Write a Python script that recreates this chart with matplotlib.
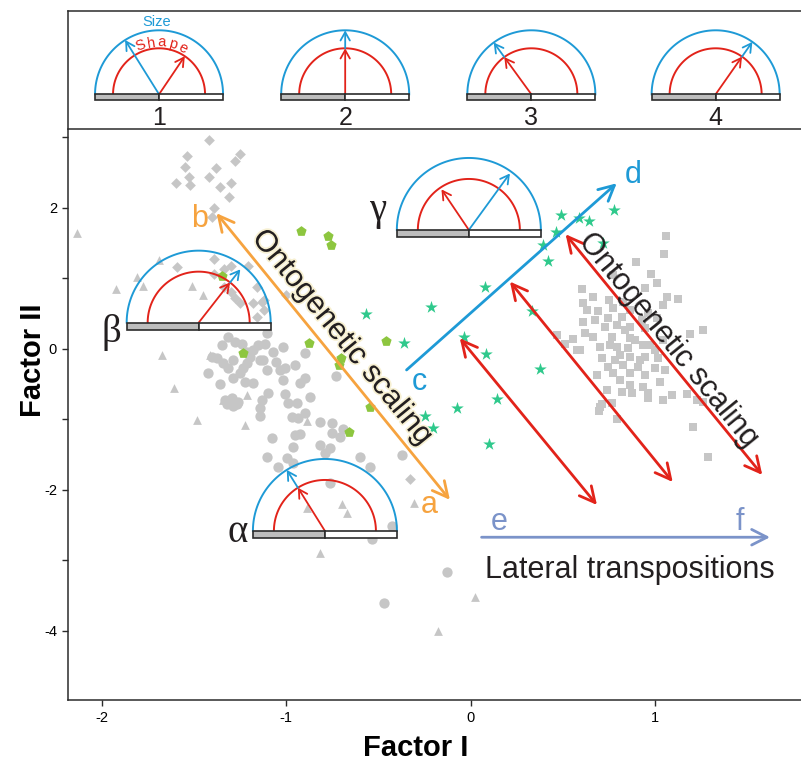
import numpy as np
import matplotlib
matplotlib.use("Agg")
import matplotlib.pyplot as plt
import matplotlib.transforms as mtransforms
import matplotlib.patheffects as pe
from matplotlib.patches import Rectangle, FancyArrowPatch

# ---- point data (Factor I, Factor II) ----
circles = [(-1.103, 0.223), (-1.315, 0.166), (-1.278, 0.104), (-1.242, 0.067), (-1.351, 0.057),
           (-1.152, 0.057), (-1.116, 0.067), (-1.020, 0.024), (-1.179, -0.014), (-1.071, -0.038),
           (-0.899, -0.061), (-1.197, -0.109), (-1.378, -0.132), (-1.125, -0.156), (-1.056, -0.180),
           (-1.342, -0.203), (-1.215, -0.203), (-1.233, -0.274), (-0.953, -0.227), (-1.007, -0.274),
           (-1.315, -0.274), (-1.106, -0.298), (-1.034, -0.298), (-1.423, -0.345), (-1.251, -0.336),
           (-1.288, -0.416), (-1.016, -0.440), (-0.899, -0.416), (-1.224, -0.464), (-1.179, -0.487),
           (-0.926, -0.487), (-1.360, -0.501), (-0.730, -0.383), (-1.098, -0.628), (-1.007, -0.643),
           (-0.871, -0.685), (-1.296, -0.699), (-1.134, -0.723), (-1.323, -0.780), (-1.269, -0.784),
           (-0.989, -0.770), (-0.944, -0.770), (-1.143, -0.841), (-1.143, -0.950), (-0.899, -0.912),
           (-0.971, -0.969), (-0.935, -0.983), (-0.817, -1.040), (-0.754, -1.054), (-0.691, -1.139),
           (-0.754, -1.187), (-0.953, -1.220), (-0.926, -1.206), (-1.079, -1.267), (-0.709, -1.244),
           (-0.817, -1.362), (-0.763, -1.408), (-0.965, -1.386), (-0.790, -1.479), (-0.600, -1.528),
           (-0.374, -1.503), (-1.106, -1.528), (-0.998, -1.550), (-1.044, -1.669), (-0.962, -1.613),
           (-0.546, -1.669), (-0.763, -1.896), (-0.425, -2.511), (-0.537, -2.699), (-0.126, -3.159),
           (-0.470, -3.599), (-1.306, -0.723), (-1.262, -0.752), (-1.288, -0.808), (-1.331, -0.723),
           (-1.405, -0.109), (-1.288, -0.156), (-1.215, -0.038), (-1.143, -0.156)]

diamonds = [(-1.42, 2.96), (-1.54, 2.74), (-1.25, 2.76), (-1.28, 2.66), (-1.55, 2.58), (-1.38, 2.56),
            (-1.53, 2.44), (-1.42, 2.44), (-1.60, 2.36), (-1.52, 2.33), (-1.30, 2.36), (-1.36, 2.30),
            (-1.31, 2.15), (-1.39, 2.00), (-1.40, 1.87), (-1.39, 1.27), (-1.59, 1.16), (-1.34, 1.14),
            (-1.30, 1.18), (-1.21, 1.17), (-1.39, 1.06), (-1.34, 0.88), (-1.30, 0.81), (-1.25, 0.65),
            (-1.28, 0.72), (-1.18, 0.65), (-1.12, 0.55), (-1.16, 0.46), (-1.13, 0.67), (-1.16, 0.88),
            (-1.12, 0.70), (-1.00, 0.77), (-0.33, -1.85)]

triangles = [(-2.134, 1.641), (-1.924, 0.847), (-1.809, 1.025), (-1.691, 1.262), (-1.776, 0.894),
             (-1.510, 0.894), (-1.454, 0.766), (-1.673, -0.085), (-1.609, -0.557), (-1.486, -1.007),
             (-1.414, -0.085), (-1.342, -0.723), (-1.215, -0.652), (-1.224, -1.078), (-0.886, -1.017),
             (-0.699, -2.199), (-0.672, -2.322), (-0.889, -2.260), (-0.817, -2.889), (-0.307, -2.180),
             (-0.175, -3.996), (0.024, -3.522)]

squares = [(1.060, 1.603), (1.051, 1.347), (0.897, 1.238), (0.977, 1.060), (0.774, 1.050),
           (1.010, 0.932), (0.603, 0.851), (0.946, 0.861), (1.064, 0.742), (1.127, 0.705),
           (0.663, 0.733), (0.751, 0.695), (0.612, 0.657), (0.829, 0.671), (1.046, 0.624),
           (0.630, 0.553), (0.693, 0.539), (0.774, 0.577), (0.865, 0.553), (0.964, 0.515),
           (0.747, 0.435), (0.820, 0.458), (0.612, 0.387), (0.675, 0.411), (0.928, 0.411),
           (1.010, 0.435), (0.729, 0.316), (0.793, 0.340), (0.865, 0.308), (0.946, 0.294),
           (1.263, 0.269), (1.190, 0.213), (0.621, 0.223), (0.467, 0.199), (0.554, 0.142),
           (0.666, 0.174), (0.766, 0.174), (0.865, 0.152), (1.046, 0.128), (0.512, 0.071),
           (0.594, -0.014), (0.702, 0.033), (0.793, 0.024), (0.856, 0.010), (0.937, 0.057),
           (0.711, -0.132), (0.811, -0.085), (0.865, -0.109), (0.946, -0.109), (1.018, -0.132),
           (0.747, -0.251), (0.829, -0.227), (0.910, -0.251), (1.001, -0.274), (1.055, -0.298),
           (0.684, -0.369), (0.774, -0.345), (0.865, -0.345), (0.946, -0.369), (0.811, -0.440),
           (1.028, -0.464), (0.738, -0.582), (0.865, -0.511), (0.937, -0.535), (0.820, -0.606),
           (0.874, -0.628), (0.964, -0.620), (1.091, -0.652), (1.173, -0.643), (1.046, -0.723),
           (1.227, -0.723), (1.263, -0.748), (0.964, -0.699), (0.766, -0.762), (0.711, -0.780),
           (0.698, -0.875), (0.796, -0.997), (1.205, -1.102), (1.287, -1.536), (0.576, -0.014),
           (0.702, -0.818), (0.838, 0.270), (0.892, 0.128), (0.975, 0.057), (0.919, -0.156),
           (0.784, -0.156), (1.001, -0.014), (0.756, 0.057)]

pentagons = [(-0.922, 1.678), (-0.772, 1.603), (-0.759, 1.475), (-1.347, 1.040), (-0.877, 0.081),
             (-1.237, -0.061), (-0.703, -0.123), (-0.712, -0.227), (-0.459, 0.113), (-0.546, -0.827),
             (-0.658, -1.181)]

stars = [(0.489, 1.901), (0.587, 1.854), (0.644, 1.815), (0.780, 1.972), (0.463, 1.655),
         (0.395, 1.475), (0.418, 1.248), (0.720, 1.499), (0.078, 0.884), (-0.217, 0.591),
         (0.331, 0.543), (-0.034, 0.174), (-0.360, 0.081), (0.084, -0.071), (0.377, -0.288),
         (0.141, -0.713), (-0.075, -0.833), (-0.247, -0.950), (-0.206, -1.125), (0.101, -1.347),
         (-0.568, 0.492)]

# ---- trajectory arrows: (start, end) ----
arrow_orange = ((-1.378, 1.925), (-0.112, -2.140))
arrow_blue = ((-0.347, -0.298), (0.793, 2.350))
arrows_red = [((-0.058, 0.152), (0.686, -2.213)),
              ((0.214, 0.955), (1.097, -1.887)),
              ((0.516, 1.627), (1.583, -1.787))]
arrow_lateral = ((0.060, -2.671), (1.625, -2.671))

# ---- size/shape glyphs: anchor, red angle, blue angle, blue starts at red radius ----
top_glyph_x = [-1.69, -0.68, 0.33, 1.33]
top_glyph_labels = ["1", "2", "3", "4"]
top_red_ang = [56, 90, 126, 55]
top_blue_ang = [122, 90, 126, 55]
top_blue_from_red = [False, True, True, True]

main_glyph_names = ["\u03b2", "\u03b1", "\u03b3"]
main_glyph_xy = [(-1.475, 0.373), (-0.790, -2.582), (-0.009, 1.688)]
main_name_xy = [(-1.946, 0.227), (-1.262, -2.610), (-0.502, 1.970)]
main_red_ang = [52, 122, 124]
main_red_len = [1.0, 1.0, 0.96]
main_blue_ang = [52, 122, 54]
main_blue_len = [0.94, 1.0, 0.97]
main_blue_from_red = [True, True, False]

GRAY = "#c6c6c6"
BLUE = "#1e9ad6"
RED = "#e2231a"
ORANGE = "#f6a33f"
PERI = "#7b93c9"
GREEN_P = "#8dc63f"
GREEN_S = "#2fc98c"
DARK = "#2b2b2b"

NARROW = ["Liberation Sans Narrow", "Liberation Sans", "DejaVu Sans"]
SANS = ["Liberation Sans", "DejaVu Sans"]
SERIF = ["Liberation Serif", "DejaVu Serif"]

W, H = 801, 763
fig = plt.figure(figsize=(W / 100, H / 100), dpi=100)
XLIM = (-2.184, 1.842)

ax = fig.add_axes([68 / W, (H - 700) / H, 742 / W, 570 / H])
top = fig.add_axes([68 / W, (H - 129) / H, 742 / W, 118 / H])

ax.set_xlim(*XLIM)
ax.set_ylim(-4.98, 3.106)
top.set_xlim(*XLIM)
top.set_ylim(0, 1)
top.set_xticks([])
top.set_yticks([])
for s in top.spines.values():
    s.set_color(DARK)
    s.set_linewidth(1.1)

for s in ["top", "right"]:
    ax.spines[s].set_visible(False)
for s in ["left", "bottom"]:
    ax.spines[s].set_color(DARK)
    ax.spines[s].set_linewidth(1.1)
ax.set_xticks([-2, -1, 0, 1])
ax.set_xticklabels(["-2", "-1", "0", "1"])
ax.set_yticks(np.arange(-4, 4))
ax.set_yticklabels(["-4", "", "-2", "", "0", "", "2", ""])
ax.tick_params(direction="out", length=4, width=1, color=DARK, labelsize=10.5, pad=4)
for lab in ax.get_xticklabels() + ax.get_yticklabels():
    lab.set_family(NARROW)

# ---- scatter groups ----
def pts(lst):
    a = np.array(lst)
    return a[:, 0], a[:, 1]

x, y = pts(triangles)
ax.scatter(x, y, marker="^", s=40, color=GRAY, lw=0, zorder=2)
x, y = pts(diamonds)
ax.scatter(x, y, marker="D", s=30, color=GRAY, lw=0, zorder=2)
x, y = pts(circles)
ax.scatter(x, y, marker="o", s=55, color=GRAY, lw=0, zorder=2)
x, y = pts(squares)
ax.scatter(x, y, marker="s", s=38, color=GRAY, lw=0, zorder=2)
x, y = pts(pentagons)
ax.scatter(x, y, marker="p", s=60, color=GREEN_P, lw=0, zorder=3)
x, y = pts(stars)
ax.scatter(x, y, marker="*", s=90, color=GREEN_S, lw=0, zorder=3)

# ---- big arrows ----
def big_arrow(p0, p1, color, style):
    a = FancyArrowPatch(p0, p1, arrowstyle=style + ",head_length=0.55,head_width=0.28",
                        mutation_scale=20, color=color, lw=2.0, shrinkA=0, shrinkB=0, zorder=4)
    ax.add_patch(a)

big_arrow(*arrow_orange, ORANGE, "<->")
big_arrow(*arrow_blue, BLUE, "->")
for p0, p1 in arrows_red:
    big_arrow(p0, p1, RED, "<->")
big_arrow(*arrow_lateral, PERI, "->")

letter_kw = dict(fontsize=22, ha="center", va="center", family=SANS, zorder=6)
ax.text(-1.468, 1.844, "b", color=ORANGE, **letter_kw)
ax.text(-0.226, -2.21, "a", color=ORANGE, **letter_kw)
ax.text(-0.280, -0.468, "c", color=BLUE, **letter_kw)
ax.text(0.881, 2.468, "d", color=BLUE, **letter_kw)
ax.text(0.154, -2.454, "e", color=PERI, **letter_kw)
ax.text(1.462, -2.454, "f", color=PERI, **letter_kw)

rot = -50.8
ax.text(-0.698, 0.170, "Ontogenetic scaling", rotation=rot, rotation_mode="anchor",
        fontsize=22, ha="center", va="center", color="#231f20", family=SANS, zorder=6,
        path_effects=[pe.withStroke(linewidth=2.5, foreground="#f7f0d2")])
ax.text(1.071, 0.128, "Ontogenetic scaling", rotation=rot, rotation_mode="anchor",
        fontsize=22, ha="center", va="center", color="#231f20", family=SANS, zorder=6)
ax.text(0.866, -3.135, "Lateral transpositions", fontsize=22, ha="center", va="center",
        color="#231f20", family=SANS, zorder=6)

# ---- glyph drawing (offsets in pixels around an anchor) ----
def glyph(axx, t, r_blue, r_red, bar_h, red_ang, red_len, blue_ang, blue_len, blue_from_red, z=5):
    th = np.linspace(0, np.pi, 120)
    axx.plot(r_blue * np.cos(th), r_blue * np.sin(th), color=BLUE, lw=1.4, transform=t,
             clip_on=False, zorder=z)
    axx.plot(r_red * np.cos(th), r_red * np.sin(th), color=RED, lw=1.4, transform=t,
             clip_on=False, zorder=z)
    for x0, fc in [(-r_blue, "#bdbdbd"), (0, "white")]:
        axx.add_patch(Rectangle((x0, -bar_h), r_blue, bar_h, fc=fc, ec=DARK, lw=1.2,
                                transform=t, clip_on=False, zorder=z + 1))
    kw = dict(transform=t, arrowstyle="->,head_length=0.5,head_width=0.28", mutation_scale=12,
              lw=1.3, shrinkA=0, shrinkB=0, clip_on=False, zorder=z + 0.5)
    ra = np.radians(red_ang)
    rl = r_red * red_len
    axx.add_patch(FancyArrowPatch((0, 0), (rl * np.cos(ra), rl * np.sin(ra)), color=RED, **kw))
    ba = np.radians(blue_ang)
    b0 = r_red if blue_from_red else 0
    bl = r_blue * blue_len
    axx.add_patch(FancyArrowPatch((b0 * np.cos(ba), b0 * np.sin(ba)),
                                  (bl * np.cos(ba), bl * np.sin(ba)), color=BLUE, **kw))

blend = mtransforms.blended_transform_factory(top.transData, top.transAxes)
for i, gx in enumerate(top_glyph_x):
    t = mtransforms.ScaledTranslation(gx, 0.294, blend)
    glyph(top, t, 64, 46, 6, top_red_ang[i], 1.0, top_blue_ang[i], 1.0, top_blue_from_red[i])
    top.text(gx, 0.093, top_glyph_labels[i], transform=blend, fontsize=18, ha="center",
             va="center", family=NARROW, color="#231f20")

t1 = mtransforms.ScaledTranslation(top_glyph_x[0], 0.294, blend)
top.text(-2, 72, "Size", transform=t1, fontsize=10.5, color=BLUE, ha="center", va="center",
         family=SANS)
for k, ch in enumerate("Shape"):
    ang = np.radians(111 - k * 12)
    top.text(52 * np.cos(ang), 52 * np.sin(ang), ch, transform=t1, fontsize=10.5, color=RED,
             ha="center", va="center", rotation=np.degrees(ang) - 90, family=SANS)

for i, (gx, gy) in enumerate(main_glyph_xy):
    t = mtransforms.ScaledTranslation(gx, gy, ax.transData)
    glyph(ax, t, 72, 51, 7, main_red_ang[i], main_red_len[i], main_blue_ang[i],
          main_blue_len[i], main_blue_from_red[i])
    nx, ny = main_name_xy[i]
    ax.text(nx, ny, main_glyph_names[i], fontsize=28, ha="center", va="center",
            family=SERIF, color="#231f20", zorder=7)

fig.text(416 / W, 1 - 748 / H, "Factor I", fontsize=21, fontweight="bold", ha="center",
         va="center", family=NARROW)
fig.text(33 / W, 1 - 360 / H, "Factor II", fontsize=21, fontweight="bold", ha="center",
         va="center", rotation=90, family=NARROW)

fig.savefig("out.png", dpi=100)
